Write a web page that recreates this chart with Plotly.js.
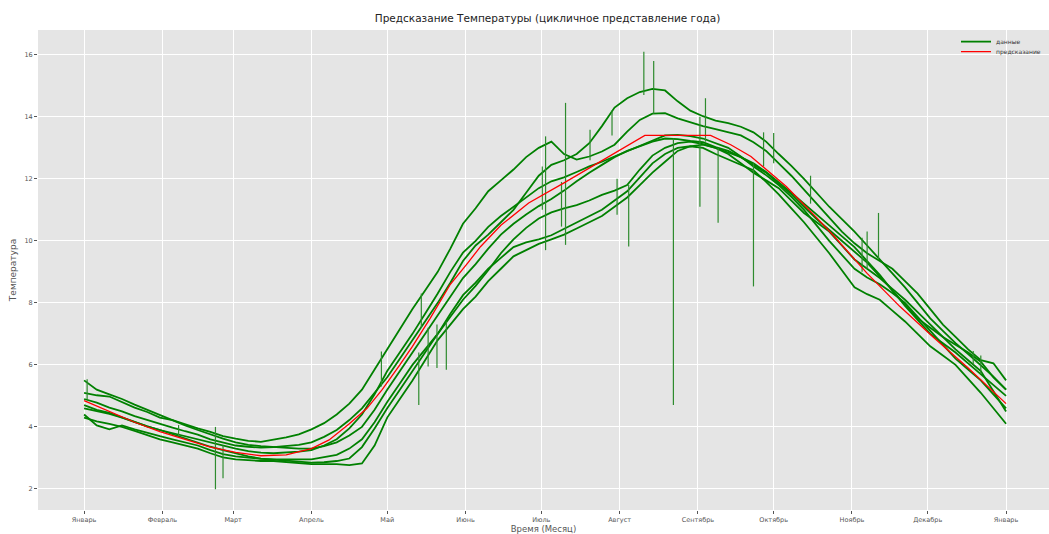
<!DOCTYPE html>
<html>
<head>
<meta charset="utf-8">
<script src="https://cdn.plot.ly/plotly-3.0.1.min.js"></script>
<style>html,body{margin:0;padding:0;background:#fff;}#chart{width:1049px;height:534px;overflow:hidden;}</style>
</head>
<body>
<div id="chart"></div>
<script>
// day of year grid for the measured series (every 5 days)
const days = [0,5,10,15,20,25,30,35,40,45,50,55,60,65,70,75,80,85,90,95,100,105,110,115,120,125,130,135,140,145,150,155,160,165,170,175,180,185,190,195,200,205,210,215,220,225,230,235,240,245,250,255,260,265,270,275,280,285,290,295,300,305,310,315,320,325,330,335,340,345,350,355,360,365];

const year1 = [5.10,5.02,4.98,4.80,4.62,4.48,4.30,4.22,4.08,3.95,3.84,3.70,3.62,3.55,3.52,3.58,3.66,3.76,3.92,4.12,4.40,4.75,5.20,5.85,6.50,7.15,7.80,8.40,9.00,9.75,10.55,11.05,11.60,11.95,12.30,12.70,13.00,13.20,12.80,12.62,12.72,12.88,13.10,13.52,13.90,14.10,14.12,13.95,13.82,13.70,13.60,13.50,13.40,13.18,12.90,12.50,12.10,11.65,11.20,10.75,10.30,9.92,9.60,9.35,9.10,8.70,8.30,7.80,7.30,6.90,6.50,6.15,6.05,5.50];
const year2 = [4.90,4.78,4.62,4.50,4.35,4.22,4.10,3.98,3.86,3.75,3.60,3.50,3.40,3.36,3.33,3.35,3.38,3.42,3.50,3.68,3.90,4.22,4.60,5.10,5.60,6.20,6.80,7.40,8.00,8.65,9.35,9.85,10.20,10.60,11.00,11.55,12.10,12.45,12.60,12.80,13.15,13.70,14.30,14.60,14.80,14.90,14.85,14.50,14.20,14.02,13.88,13.80,13.68,13.50,13.20,12.80,12.42,12.00,11.55,11.10,10.70,10.30,9.85,9.40,8.95,8.50,8.00,7.50,7.10,6.70,6.35,6.00,5.62,5.20];
const year3 = [4.60,4.52,4.42,4.30,4.15,4.02,3.90,3.80,3.70,3.60,3.48,3.38,3.30,3.22,3.17,3.15,3.17,3.20,3.25,3.40,3.60,3.95,4.40,5.05,5.80,6.40,7.00,7.65,8.30,9.00,9.62,10.00,10.45,10.80,11.10,11.42,11.70,11.92,12.05,12.22,12.40,12.55,12.72,12.90,13.08,13.25,13.40,13.42,13.38,13.30,13.15,13.00,12.72,12.40,12.12,11.80,11.42,11.00,10.50,10.00,9.55,9.10,8.82,8.60,8.32,8.00,7.55,7.10,6.65,6.20,5.85,5.50,5.05,4.60];
const year4 = [5.50,5.20,5.05,4.90,4.72,4.55,4.40,4.22,4.05,3.90,3.75,3.62,3.50,3.42,3.38,3.35,3.32,3.30,3.30,3.38,3.50,3.72,4.00,4.55,5.20,5.80,6.40,7.00,7.60,8.20,8.80,9.25,9.75,10.20,10.55,10.85,11.12,11.35,11.62,11.92,12.20,12.45,12.70,12.90,13.05,13.20,13.30,13.28,13.22,13.18,13.02,12.90,12.70,12.50,12.22,11.90,11.55,11.20,10.85,10.50,10.15,9.80,9.35,8.90,8.40,7.90,7.45,7.00,6.70,6.40,6.05,5.70,5.35,5.00];
const year5 = [4.40,4.05,3.92,4.05,3.92,3.80,3.70,3.60,3.50,3.40,3.25,3.12,3.05,3.00,2.97,2.95,2.94,2.95,2.95,3.02,3.10,3.30,3.60,4.15,4.80,5.40,6.00,6.50,7.00,7.55,8.10,8.55,9.05,9.60,10.05,10.42,10.72,10.92,11.05,11.15,11.30,11.48,11.62,11.80,12.30,12.75,13.00,13.15,13.20,13.12,13.00,12.85,12.70,12.45,12.20,11.85,11.50,11.10,10.70,10.35,10.00,9.65,9.30,8.85,8.40,7.95,7.50,7.20,6.90,6.65,6.40,6.10,5.60,5.20];
const year6 = [4.70,4.55,4.45,4.30,4.15,4.02,3.90,3.76,3.62,3.50,3.36,3.25,3.15,3.05,2.98,2.95,2.90,2.87,2.85,2.86,2.90,2.98,3.35,3.95,4.60,5.20,5.80,6.40,7.00,7.65,8.25,8.65,9.10,9.45,9.80,9.95,10.05,10.18,10.38,10.60,10.80,11.00,11.30,11.60,12.05,12.50,12.80,13.00,13.05,13.00,12.80,12.62,12.45,12.28,11.90,11.50,11.05,10.60,10.10,9.60,9.05,8.50,8.28,8.10,7.75,7.40,7.00,6.60,6.30,6.00,5.55,5.10,4.60,4.10];
const year7 = [4.30,4.18,4.10,4.00,3.87,3.74,3.60,3.50,3.40,3.30,3.15,3.02,2.95,2.92,2.90,2.90,2.86,2.82,2.80,2.80,2.80,2.77,2.82,3.40,4.30,4.90,5.50,6.15,6.80,7.30,7.80,8.20,8.70,9.10,9.50,9.70,9.90,10.05,10.20,10.40,10.60,10.80,11.10,11.40,11.80,12.20,12.55,12.90,13.05,13.10,13.00,12.80,12.50,12.20,11.95,11.70,11.30,10.90,10.60,10.30,9.85,9.40,9.10,8.80,8.45,8.10,7.70,7.30,6.90,6.50,6.15,5.80,5.15,4.50];

// short outliers in the measurements (day, lowest, highest)
const spikeDays = [1.2,37.4,52,55,117.7,132.5,133.5,136.2,139.7,143.4,181.4,182.7,189,190.6,200.3,209,211,215.6,221.6,225.5,233.3,243.8,246,251,265,269,273,287.6,308,310,314.5,352,355];
const spikeLow  = [4.90,3.70,1.99,2.34,5.30,4.71,7.20,5.95,5.90,5.84,11.00,9.70,10.46,9.87,12.60,13.40,10.84,9.82,14.70,14.10,4.71,11.10,13.20,10.58,8.53,12.40,12.50,11.20,9.00,9.10,9.40,6.00,5.70];
const spikeHigh = [5.54,4.06,4.00,3.40,6.43,6.40,8.30,7.20,7.30,7.40,12.40,13.37,11.90,14.45,13.58,14.20,12.00,11.80,16.10,15.80,13.30,14.00,14.60,13.00,12.50,13.50,13.48,12.10,10.10,10.30,10.90,6.45,6.30];

// model prediction
const predDays = [0,10,20,30,40,50,60,70,80,90,97,105,112,118,125,130,137,145,152,157,165,176,190,200,210,222,248,256,264,278,290,297,310,323,336,350,365];
const predTemp = [4.85,4.50,4.15,3.85,3.60,3.35,3.18,3.07,3.10,3.30,3.58,4.10,4.60,5.20,6.00,6.60,7.50,8.60,9.30,9.82,10.50,11.22,11.87,12.35,12.83,13.40,13.40,13.10,12.72,11.75,10.75,10.14,8.95,7.88,6.91,5.90,4.75];

const monthTickDays = [0,31,59,90,120,151,181,212,243,273,304,334,365];
const monthLabels = ['Январь','Февраль','Март','Апрель','Май','Июнь','Июль','Август','Сентябрь','Октябрь','Ноябрь','Декабрь','Январь'];
const tempTicks = [2,4,6,8,10,12,14,16];

const GREEN = '#008000';
const series = [year1,year2,year3,year4,year5,year6,year7];
const traces = series.map((ys,i)=>({
  type:'scatter', mode:'lines', x:days, y:ys,
  name:'данные', showlegend:i===0, legendgroup:'data', legend:'legend',
  line:{color:GREEN, width:1.8}
}));

const sx=[], sy=[];
spikeDays.forEach((d,i)=>{ sx.push(d,d,null); sy.push(spikeLow[i],spikeHigh[i],null); });
traces.push({type:'scatter', mode:'lines', x:sx, y:sy, showlegend:false, legendgroup:'data',
  line:{color:'#2e8b2e', width:1.2}, connectgaps:false});

traces.push({type:'scatter', mode:'lines', x:predDays, y:predTemp, name:'предсказание', legend:'legend2',
  line:{color:'#ff0000', width:1.3}});

const legendCommon = {xanchor:'left', yanchor:'top', bgcolor:'rgba(0,0,0,0)',
  font:{size:6, color:'#333333'}, itemwidth:30, borderwidth:0};

const layout = {
  width:1049, height:534,
  margin:{l:38, r:0, t:30, b:24, autoexpand:false},
  paper_bgcolor:'#ffffff', plot_bgcolor:'#E5E5E5',
  font:{family:'DejaVu Sans, sans-serif', color:'#555555'},
  title:{text:'Предсказание Температуры (цикличное представление года)', x:0.522, xanchor:'center', y:0.965, yanchor:'middle',
    font:{size:10.5, color:'#222222', family:'DejaVu Sans, sans-serif'}},
  xaxis:{range:[-18.25,382], tickmode:'array', tickvals:monthTickDays, ticktext:monthLabels,
    showgrid:true, gridcolor:'#ffffff', gridwidth:1, zeroline:false, showline:false,
    ticks:'outside', ticklen:3, tickcolor:'#555555', tickfont:{size:6.5, color:'#555555'},
    title:{text:'Время (Месяц)', font:{size:8.5, color:'#555555'}, standoff:2}},
  yaxis:{range:[1.32,16.8], tickmode:'array', tickvals:tempTicks,
    showgrid:true, gridcolor:'#ffffff', gridwidth:1, zeroline:false, showline:false,
    ticks:'outside', ticklen:3, tickcolor:'#555555', tickfont:{size:6.5, color:'#555555'},
    title:{text:'Температура', font:{size:9, color:'#555555'}, standoff:6}},
  showlegend:true,
  legend:Object.assign({x:0.908, y:1.006}, legendCommon),
  legend2:Object.assign({x:0.908, y:0.985}, legendCommon)
};

Plotly.newPlot('chart', traces, layout, {displayModeBar:false, staticPlot:true});
</script>
</body>
</html>
